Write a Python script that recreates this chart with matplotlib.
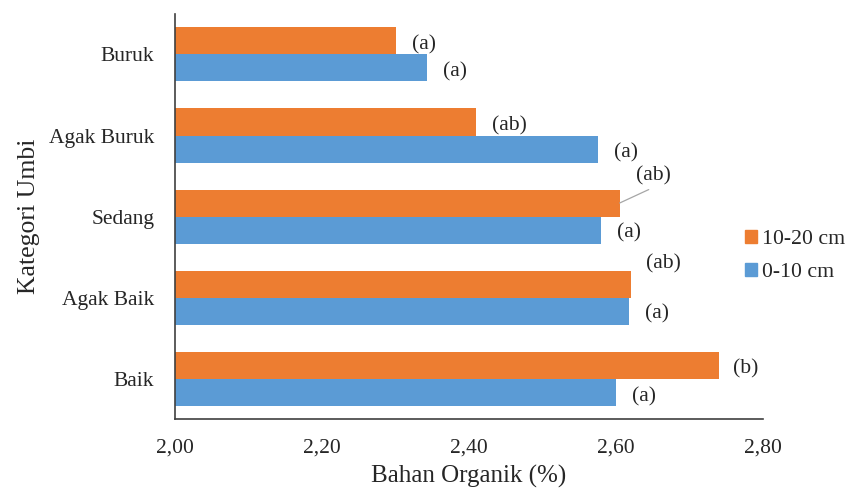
import numpy as np
import matplotlib.pyplot as plt
from matplotlib.patches import Patch

# bottom to top, as drawn
categories = ["Baik", "Agak Baik", "Sedang", "Agak Buruk", "Buruk"]
bo_10_20 = [2.74, 2.62, 2.605, 2.41, 2.30]
bo_0_10 = [2.60, 2.617, 2.58, 2.575, 2.343]
notes_10_20 = ["(b)", "(ab)", "(ab)", "(ab)", "(a)"]
notes_0_10 = ["(a)", "(a)", "(a)", "(a)", "(a)"]
x_ticks = [2.00, 2.20, 2.40, 2.60, 2.80]

ORANGE = "#ED7D31"
BLUE = "#5B9BD5"
SERIF = ["Liberation Serif", "DejaVu Serif"]

plt.rcParams['font.family'] = SERIF

fig = plt.figure(figsize=(8.46, 4.91), dpi=100)
ax = fig.add_axes([0.2069, 0.1466, 0.6950, 0.8249])

y = np.arange(len(categories))
h = 1 / 3
ax.barh(y + h / 2, [v - 2 for v in bo_10_20], height=h, left=2, color=ORANGE)
ax.barh(y - h / 2, [v - 2 for v in bo_0_10], height=h, left=2, color=BLUE)

# label offsets in pixels (dx, dy), 100 dpi
off_10_20 = [(14, -4), (15, 20), (16, 27), (16, -4), (16, -4)]
off_0_10 = [(16, -5), (16, -3), (16, -3), (16, -4), (16, -4)]
px = 0.72

for i in range(len(categories)):
    dx, dy = off_10_20[i]
    if categories[i] == "Sedang":
        # label lifted off the bar, with a thin leader line
        ax.annotate(notes_10_20[i], xy=(bo_10_20[i], y[i] + h / 2),
                    xytext=(dx * px + 13, dy * px), textcoords='offset points',
                    ha='center', va='center', fontsize=15.6, color='#262626',
                    arrowprops=dict(arrowstyle='-', color='#A6A6A6', lw=0.9,
                                    shrinkA=2, shrinkB=0, relpos=(0.6, 0)))
    else:
        ax.annotate(notes_10_20[i], xy=(bo_10_20[i], y[i] + h / 2),
                    xytext=(dx * px, dy * px), textcoords='offset points',
                    ha='left', va='center', fontsize=15.6, color='#262626')
    dx, dy = off_0_10[i]
    ax.annotate(notes_0_10[i], xy=(bo_0_10[i], y[i] - h / 2),
                xytext=(dx * px, dy * px), textcoords='offset points',
                ha='left', va='center', fontsize=15.6, color='#262626')

ax.set_xlim(2.0, 2.8)
ax.set_ylim(-0.5, len(categories) - 0.5)
ax.set_xticks(x_ticks)
ax.set_xticklabels([f"{t:.2f}".replace('.', ',') for t in x_ticks])
ax.set_yticks(y)
ax.set_yticklabels(categories)
ax.tick_params(axis='both', length=0, labelsize=15.5, colors='#262626')
ax.tick_params(axis='x', pad=14)
ax.tick_params(axis='y', pad=15)

for s in ['top', 'right']:
    ax.spines[s].set_visible(False)
for s in ['left', 'bottom']:
    ax.spines[s].set_color('#404040')
    ax.spines[s].set_linewidth(1.2)

ax.set_xlabel("Bahan Organik (%)", fontsize=18, color='#262626', labelpad=5)
ax.set_ylabel("Kategori Umbi", fontsize=18.5, color='#262626', labelpad=6)

handles = [Patch(color=ORANGE, label="10-20 cm"), Patch(color=BLUE, label="0-10 cm")]
fig.legend(handles=handles, loc='center left', bbox_to_anchor=(745 / 846, 1 - 256 / 491),
           frameon=False, fontsize=15.7, handlelength=0.55, handleheight=0.55,
           handletextpad=0.22, labelspacing=0.6, borderpad=0, borderaxespad=0,
           labelcolor='#262626')

fig.savefig("out.png", dpi=100)
